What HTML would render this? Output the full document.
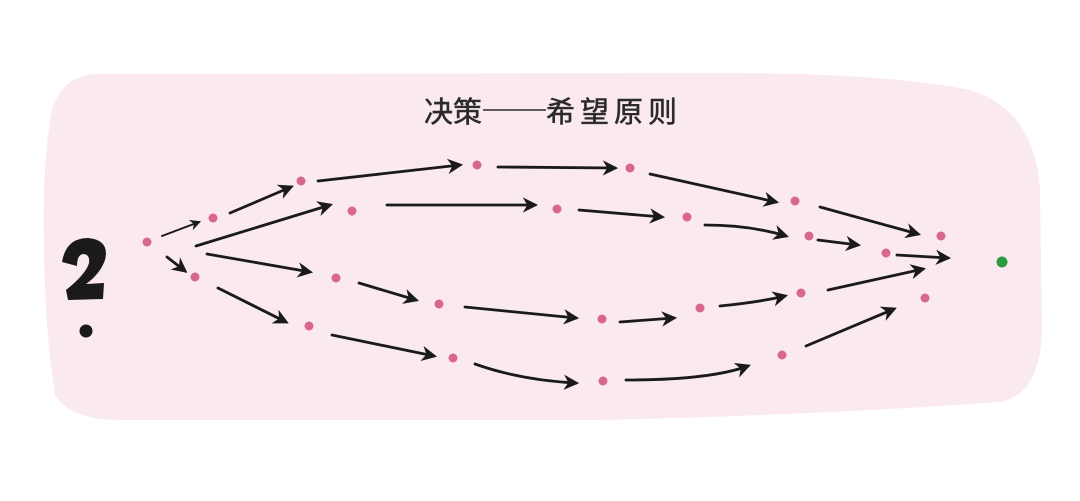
<!DOCTYPE html>
<html><head><meta charset="utf-8"><style>
html,body{margin:0;padding:0;background:#fff;width:1080px;height:501px;overflow:hidden}
</style></head><body>
<svg width="1080" height="501" viewBox="0 0 1080 501" xmlns="http://www.w3.org/2000/svg">
<defs>
<marker id="ah" viewBox="0 0 10 10" refX="8" refY="5" markerWidth="5.5" markerHeight="5.5" orient="auto" markerUnits="strokeWidth">
<path d="M0,0 L10,5 L0,10 L3,5 Z" fill="#1a1a1a"/>
</marker>
</defs>
<path d="M95,74 L700,73 Q880,72 970,90 Q1035,110 1040,190 L1042,330 Q1040,395 1000,402 Q820,415 600,420 L120,420 Q70,420 55,395 Q45,330 44,250 Q42,160 52,110 Q62,76 95,74 Z" fill="#fbe9f1"/>
<g font-family="'Noto Sans CJK SC',sans-serif" font-size="29" fill="#2a2a2a" stroke="#2a2a2a" stroke-width="0.5">
<text x="424" y="122">决策</text>
<text x="546" y="122" letter-spacing="5">希望原则</text>
</g>
<line x1="483" y1="110" x2="546" y2="110" stroke="#2a2a2a" stroke-width="1.6"/>
<path d="M62,262 Q66,238 88,238 Q110,240 105,260 Q100,274 86,284 L104,283 L103,299 L68,300 L66,290 Q86,274 89,263 Q90,254 83,254 Q77,255 77,266 Z" fill="#1a1a1a"/>
<circle cx="86" cy="331" r="6.5" fill="#1a1a1a"/>
<g stroke="#1a1a1a" stroke-width="2.8" fill="none" stroke-linecap="round" marker-end="url(#ah)">
<path d="M162,236 L199,222" stroke-width="2"/>
<path d="M167,257 L185,271"/>
<path d="M230,213 L291,187"/>
<path d="M196,246 L330,205"/>
<path d="M207,254 L310,272"/>
<path d="M218,288 L286,322"/>
<path d="M318,181 L460,165"/>
<path d="M387,205 L535,205"/>
<path d="M359,283 L416,300"/>
<path d="M332,335 L434,356"/>
<path d="M498,167 L615,168"/>
<path d="M579,210 L662,217"/>
<path d="M465,307 L576,318"/>
<path d="M475,364 Q520,380 576,383"/>
<path d="M650,174 L776,202"/>
<path d="M705,225 Q750,225 786,236"/>
<path d="M620,322 L674,318"/>
<path d="M626,380 Q710,380 748,366"/>
<path d="M820,207 L918,234"/>
<path d="M818,240 L858,245"/>
<path d="M720,306 Q760,302 785,296"/>
<path d="M828,290 L923,269"/>
<path d="M897,255 L948,258"/>
<path d="M806,346 L894,309"/>
</g>
<g fill="#d9668e">
<circle cx="147" cy="242" r="4.5"/><circle cx="213" cy="218" r="4.5"/><circle cx="195" cy="277" r="4.5"/>
<circle cx="301" cy="181" r="4.5"/><circle cx="352" cy="211" r="4.5"/><circle cx="336" cy="278" r="4.5"/>
<circle cx="309" cy="326" r="4.5"/><circle cx="477" cy="165" r="4.5"/><circle cx="557" cy="209" r="4.5"/>
<circle cx="439" cy="304" r="4.5"/><circle cx="453" cy="358" r="4.5"/><circle cx="630" cy="168" r="4.5"/>
<circle cx="687" cy="217" r="4.5"/><circle cx="602" cy="319" r="4.5"/><circle cx="603" cy="381" r="4.5"/>
<circle cx="795" cy="201" r="4.5"/><circle cx="809" cy="236" r="4.5"/><circle cx="700" cy="308" r="4.5"/>
<circle cx="801" cy="293" r="4.5"/><circle cx="782" cy="355" r="4.5"/><circle cx="886" cy="253" r="4.5"/>
<circle cx="941" cy="236" r="4.5"/><circle cx="925" cy="298" r="4.5"/>
</g>
<circle cx="1002" cy="262" r="5.5" fill="#2e9a3e"/>
</svg>
</body></html>
